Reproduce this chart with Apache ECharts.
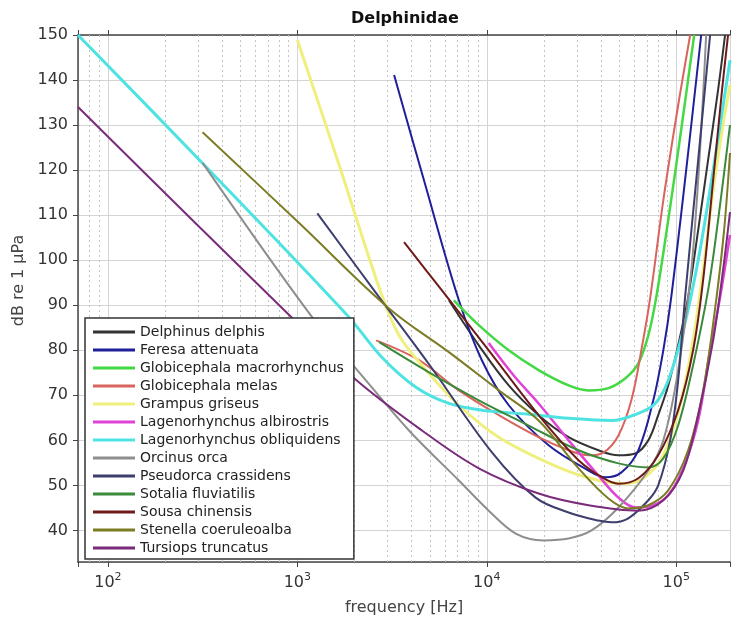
<!DOCTYPE html>
<html>
<head>
<meta charset="utf-8">
<title>Delphinidae</title>
<script src="https://cdn.jsdelivr.net/npm/echarts@6.0.0/dist/echarts.min.js"></script>
<style>
html, body { margin: 0; padding: 0; background: #fff; }
#chart { width: 733px; height: 621px; }
</style>
</head>
<body>
<div id="chart"></div>
<script>
// audiogram curves, [frequency Hz, threshold dB re 1 uPa]
var delphinusDelphis = [[6310, 91.1], [9075, 81.1], [13060, 72.2], [18780, 65.6], [27040, 60.7], [38840, 57.8], [49540, 56.7], [60830, 57.1], [71230, 60], [80350, 65.6], [90750, 72.2], [102400, 81.1], [115600, 91.8], [130600, 106.7], [147300, 122.2], [166400, 137.8], [181100, 150]];
var feresaAttenuata = [[3241, 141.1], [4656, 117.8], [7123, 91.1], [9416, 77.8], [13060, 67.8], [21200, 58.9], [34440, 53.3], [42290, 51.8], [51400, 52.9], [63100, 57.8], [75680, 68.9], [85480, 80], [94140, 91.8], [112900, 120], [135500, 150]];
var globicephalaMacrorhynchus = [[6702, 91.1], [9075, 85.6], [13060, 80], [18780, 75.6], [27040, 72.2], [34440, 71.1], [43860, 71.6], [53950, 73.8], [63100, 77.1], [71230, 83.3], [78500, 91.8], [90750, 108.9], [106200, 128.9], [124400, 150]];
var globicephalaMelas = [[2604, 82.2], [4387, 77.8], [7123, 71.1], [11570, 65.6], [18780, 60.7], [27040, 57.8], [34440, 56.7], [41290, 57.3], [49540, 61.1], [57960, 68.9], [65460, 80], [72980, 91.8], [85480, 113.3], [102400, 134.4], [118500, 150]];
var grampusGriseus = [[1000, 148.9], [1663, 121.1], [2767, 92.7], [3443, 83.3], [4775, 75.6], [7123, 67.8], [11570, 60.7], [23930, 54], [38840, 51.1], [52600, 50.4], [67010, 51.6], [85480, 56.7], [106200, 68.9], [122800, 82.2], [138700, 97.8], [156700, 115.6], [176700, 130], [192300, 138.9]];
var lagenorhynchusAlbirostris = [[10240, 81.6], [13870, 74.4], [18780, 68.2], [27040, 60], [38840, 52.2], [49540, 47.3], [60830, 45.1], [75680, 45.6], [90750, 47.8], [108900, 53.8], [130600, 64.4], [151000, 80], [170500, 91.8], [192300, 105.6]];
var lagenorhynchusObliquidens = [[69.5, 150], [305, 122.2], [1833, 87.8], [2801, 78.4], [4227, 71.8], [6310, 68.2], [9416, 66.7], [16630, 65.8], [27040, 64.9], [45500, 64.4], [63100, 66], [77470, 68.2], [90750, 73.3], [108900, 84.4], [130600, 100], [156700, 120], [192300, 144.4]];
var orcinusOrca = [[316, 121.6], [1199, 87.3], [2119, 75.1], [3883, 62.2], [7123, 51.1], [10240, 44.4], [14220, 39.3], [19950, 37.8], [27040, 38.2], [35720, 40], [49540, 45.1], [71230, 53.3], [85480, 60], [102400, 75.6], [122800, 102.2], [143900, 150]];
var pseudorcaCrassidens = [[1275, 110.4], [2541, 93.3], [4955, 76.9], [10620, 57.4], [18110, 47.3], [27040, 44], [38840, 42.2], [45500, 41.8], [55870, 42.7], [71230, 46.7], [80350, 50], [92900, 60], [102400, 73.3], [111400, 91.8], [130600, 122.2], [151000, 150]];
var sotaliaFluviatilis = [[2703, 81.8], [4955, 75.1], [9075, 68.9], [16630, 63.3], [30500, 57.8], [49540, 54.9], [71230, 54], [85480, 56], [102400, 63.3], [122800, 76.7], [147300, 93.3], [166400, 108.9], [192300, 130]];
var sousaChinensis = [[3659, 104], [5796, 93.3], [10240, 80], [18780, 65.6], [30500, 55.6], [41290, 51.6], [49540, 50.4], [63100, 51.6], [80350, 56.7], [102400, 66.7], [122800, 80], [138700, 95.6], [156700, 117.8], [174600, 137.8], [187800, 150]];
var stenellaCoeruleoalba = [[316, 128.4], [1025, 108.2], [3048, 89.3], [6310, 79.6], [11570, 71.1], [18780, 64.4], [30500, 53.8], [43860, 47.1], [55870, 44.9], [71230, 45.6], [90750, 48.9], [115600, 57.8], [138700, 71.1], [162500, 91.1], [179000, 106.7], [192300, 123.8]];
var tursiopsTruncatus = [[69.5, 134], [305, 107.3], [908, 87.8], [1995, 73.8], [4548, 62.2], [9075, 53.8], [18780, 48.2], [34440, 45.6], [63100, 44.4], [85480, 46.7], [108900, 53.3], [130600, 65.6], [156700, 82.2], [176700, 97.8], [192300, 110.7]];

var speciesNames = ['Delphinus delphis', 'Feresa attenuata', 'Globicephala macrorhynchus', 'Globicephala melas', 'Grampus griseus', 'Lagenorhynchus albirostris', 'Lagenorhynchus obliquidens', 'Orcinus orca', 'Pseudorca crassidens', 'Sotalia fluviatilis', 'Sousa chinensis', 'Stenella coeruleoalba', 'Tursiops truncatus'];
var speciesData = [delphinusDelphis, feresaAttenuata, globicephalaMacrorhynchus, globicephalaMelas, grampusGriseus, lagenorhynchusAlbirostris, lagenorhynchusObliquidens, orcinusOrca, pseudorcaCrassidens, sotaliaFluviatilis, sousaChinensis, stenellaCoeruleoalba, tursiopsTruncatus];

// dotted minor grid (2..9 x 10^n)
var minorFreqs = [80, 90, 200, 300, 400, 500, 600, 700, 800, 900, 2000, 3000, 4000, 5000, 6000, 7000, 8000, 9000, 20000, 30000, 40000, 50000, 60000, 70000, 80000, 90000];

var freqMin = 69.5, freqMax = 192300;
var dbMin = 33, dbMax = 150;

var lineColors = ['#333333', '#1f1f9c', '#44d844', '#d9645e', '#efef7e', '#e043d6', '#4ee3e3', '#8e8e8e', '#3d3d6e', '#3b8a3b', '#6e1a1a', '#7c7c24', '#7a2c7a'];
var lineWidths = [2, 2, 2.5, 2, 3, 2.5, 3, 2, 2, 2, 2, 2, 2];

var font = 'DejaVu Sans';
var axisColor = '#444';

var series = [];

// minor grid lines + small minor ticks, drawn through the axes
var tickMarks = [];
minorFreqs.forEach(function (f) {
	tickMarks.push([{ coord: [f, dbMin] }, { coord: [f, dbMin - 0.7] }]);
	tickMarks.push([{ coord: [f, dbMax] }, { coord: [f, dbMax + 0.7] }]);
});
series.push({
	name: 'minor', type: 'line', data: [], silent: true, clip: false, z: 1,
	markLine: {
		silent: true, symbol: ['none', 'none'], animation: false, z: 1,
		label: { show: false },
		lineStyle: { type: [2, 3], color: '#c4c4c4', width: 1 },
		data: minorFreqs.map(function (f) { return { xAxis: f }; })
	}
});
series.push({
	name: 'ticks', type: 'line', data: [], silent: true, clip: false, z: 3,
	markLine: {
		silent: true, symbol: ['none', 'none'], animation: false, z: 6,
		label: { show: false },
		lineStyle: { type: 'solid', color: axisColor, width: 1 },
		data: tickMarks
	}
});

for (var i = 0; i < speciesNames.length; i++) {
	series.push({
		name: speciesNames[i],
		type: 'line',
		data: speciesData[i],
		symbol: 'none',
		smooth: 0.35,
		z: 2,
		itemStyle: { color: lineColors[i] },
		lineStyle: { color: lineColors[i], width: lineWidths[i] }
	});
}

function decadeLabel(v) {
	var lg = Math.log(v) / Math.LN10;
	var p = Math.round(lg);
	if (Math.abs(lg - p) > 1e-6) return '';
	return '{b|10}{s|' + p + '}';
}

var option = {
	animation: false,
	backgroundColor: '#fff',
	textStyle: { fontFamily: font },
	title: {
		text: 'Delphinidae',
		left: 351, top: 11, padding: 0,
		textStyle: { fontFamily: font, fontWeight: 'bold', fontSize: 16, color: '#111' }
	},
	grid: { left: 78, right: 1, top: 35, bottom: 59, containLabel: false },
	legend: {
		orient: 'vertical', left: 85, top: 318,
		data: speciesNames,
		icon: 'rect', itemWidth: 42, itemHeight: 3, itemGap: 2,
		padding: [6, 10, 3, 8],
		backgroundColor: '#fff', borderColor: '#333', borderWidth: 1.5, borderRadius: 0,
		selectedMode: false,
		textStyle: { fontFamily: font, fontSize: 14, color: '#222', lineHeight: 16 }
	},
	xAxis: [{
		type: 'log', logBase: 10, min: freqMin, max: freqMax, position: 'bottom',
		name: 'frequency [Hz]', nameLocation: 'middle', nameGap: 38,
		nameTextStyle: { fontFamily: font, fontSize: 16, color: '#444' },
		axisLine: { show: true, onZero: false, lineStyle: { color: axisColor, width: 1.5 } },
		axisTick: { show: true, length: 5, lineStyle: { color: axisColor } },
		axisLabel: {
			margin: 10, color: '#333', formatter: decadeLabel,
			rich: {
				b: { fontFamily: font, fontSize: 16, lineHeight: 22, color: '#333' },
				s: { fontFamily: font, fontSize: 11, lineHeight: 12, verticalAlign: 'top', color: '#333' }
			}
		},
		splitLine: { show: true, lineStyle: { color: '#d4d4d4', width: 1 } }
	}, {
		type: 'log', logBase: 10, min: freqMin, max: freqMax, position: 'top',
		axisLine: { show: true, onZero: false, lineStyle: { color: axisColor, width: 1.5 } },
		axisTick: { show: true, length: 5, lineStyle: { color: axisColor } },
		axisLabel: { show: false },
		splitLine: { show: false }
	}],
	yAxis: {
		type: 'value', min: dbMin, max: dbMax, splitNumber: 12,
		name: 'dB re 1 μPa', nameLocation: 'middle', nameGap: 48,
		nameTextStyle: { fontFamily: font, fontSize: 16, color: '#444', padding: [0, 0, 0, 36] },
		axisLine: { show: true, onZero: false, lineStyle: { color: axisColor, width: 1.5 } },
		axisTick: { show: true, length: 5, lineStyle: { color: axisColor } },
		axisLabel: { showMinLabel: false, margin: 10, fontFamily: font, fontSize: 16, color: '#333' },
		splitLine: { show: true, lineStyle: { color: '#d4d4d4', width: 1 } }
	},
	series: series
};

var myChart = echarts.init(document.getElementById('chart'));
myChart.setOption(option);
</script>
</body>
</html>
